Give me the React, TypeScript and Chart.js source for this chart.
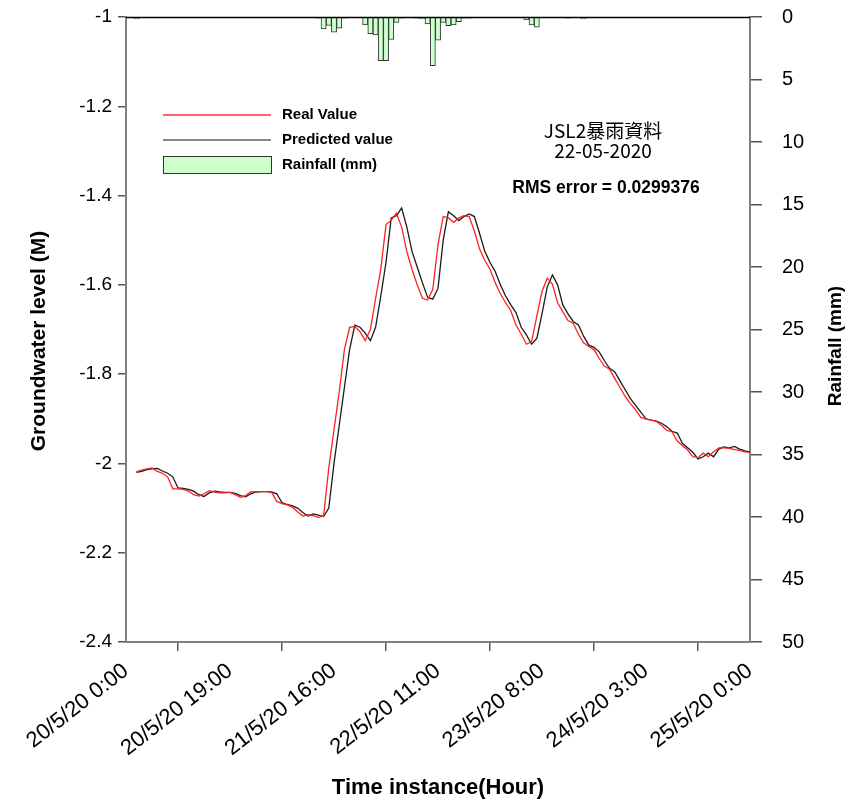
import React, { useEffect, useRef } from 'react';
import { Chart, registerables } from 'chart.js';

Chart.register(...registerables);

const FONT = '"Liberation Sans", Arial, sans-serif';
const CJK = '"Noto Sans CJK TC", "Noto Sans CJK SC", sans-serif';

// hours since 20/5/20 0:00 of the first groundwater sample
const firstHour = 2;

const realValue = [
  -2.019, -2.015, -2.012, -2.01, -2.018, -2.022, -2.03, -2.057, -2.057, -2.058,
  -2.062, -2.07, -2.073, -2.068, -2.061, -2.064, -2.066, -2.066, -2.065, -2.07,
  -2.076, -2.072, -2.064, -2.063, -2.063, -2.063, -2.065, -2.085, -2.09, -2.093,
  -2.098, -2.108, -2.118, -2.115, -2.117, -2.121, -2.118, -2.01, -1.925, -1.84,
  -1.745, -1.695, -1.693, -1.705, -1.725, -1.7, -1.63, -1.565, -1.465, -1.455,
  -1.44, -1.47, -1.525, -1.565, -1.6, -1.63, -1.634, -1.61, -1.51, -1.447,
  -1.45, -1.46, -1.45, -1.445, -1.447, -1.48, -1.52, -1.545, -1.565, -1.595,
  -1.62, -1.64, -1.658, -1.69, -1.71, -1.733, -1.727, -1.67, -1.615, -1.585,
  -1.598, -1.64, -1.66, -1.68, -1.686, -1.71, -1.73, -1.738, -1.745, -1.765,
  -1.782, -1.789, -1.81, -1.83, -1.85, -1.866, -1.88, -1.897, -1.901, -1.903,
  -1.906, -1.915, -1.926, -1.929, -1.95, -1.96, -1.97, -1.985, -1.987, -1.977,
  -1.985, -1.974, -1.965, -1.965, -1.966, -1.969, -1.971, -1.974, -1.975,
];

const predictedValue = [
  -2.02, -2.018, -2.014, -2.012, -2.011, -2.017, -2.022, -2.03, -2.055, -2.056,
  -2.058, -2.062, -2.07, -2.074, -2.066, -2.062, -2.064, -2.065, -2.065, -2.067,
  -2.072, -2.075, -2.068, -2.064, -2.063, -2.063, -2.064, -2.068, -2.088, -2.092,
  -2.095, -2.1, -2.11, -2.118, -2.113, -2.116, -2.119, -2.1, -2.0, -1.915,
  -1.83, -1.745, -1.69, -1.695, -1.708, -1.725, -1.695, -1.625, -1.55, -1.45,
  -1.445, -1.428, -1.47, -1.525, -1.56, -1.595, -1.628, -1.632, -1.608, -1.5,
  -1.436, -1.445, -1.456, -1.447, -1.441, -1.447, -1.485, -1.525, -1.55, -1.57,
  -1.6, -1.625, -1.645, -1.662, -1.695, -1.712, -1.733, -1.72, -1.665, -1.605,
  -1.578, -1.6, -1.645, -1.665, -1.682, -1.69, -1.715, -1.735, -1.74, -1.75,
  -1.77, -1.787, -1.795, -1.815, -1.835, -1.855, -1.87, -1.885, -1.9, -1.903,
  -1.905, -1.91, -1.918, -1.928, -1.932, -1.955, -1.965, -1.975, -1.99, -1.985,
  -1.977, -1.985, -1.968, -1.963, -1.965, -1.962, -1.968, -1.972, -1.974,
];

const rainHours = [
  2, 8, 11, 15, 36, 37, 38, 39, 40, 41, 42, 43, 46, 47, 48, 49, 50, 51, 52, 53,
  54, 56, 57, 58, 59, 60, 61, 62, 63, 64, 65, 66, 73, 77, 78, 79, 85, 88, 103,
];
const rainMm = [
  0.15, 0.05, 0.05, 0.05, 0.05, 0.1, 0.96, 0.68, 1.22, 0.9, 0.1, 0.05, 0.64, 1.33, 1.44, 3.5, 3.5, 1.8, 0.43, 0.1,
  0.05, 0.1, 0.15, 0.56, 3.9, 1.85, 0.43, 0.7, 0.64, 0.37, 0.1, 0.1, 0.05, 0.24, 0.64, 0.82, 0.1, 0.15, 0.05,
];

const xTickHours = [0, 20, 40, 60, 80, 100, 120];
const xTickLabels = [
  '20/5/20 0:00', '20/5/20 19:00', '21/5/20 16:00', '22/5/20 11:00',
  '23/5/20 8:00', '24/5/20 3:00', '25/5/20 0:00',
];
const levelTicks = [-1, -1.2, -1.4, -1.6, -1.8, -2, -2.2, -2.4];
const rainTicks = [0, 5, 10, 15, 20, 25, 30, 35, 40, 45, 50];

const legendItems = ['Real Value', 'Predicted value', 'Rainfall (mm)'];
const leftTitle = 'Groundwater level (M)';
const rightTitle = 'Rainfall (mm)';
const noteTitle = 'JSL2暴雨資料';
const noteDate = '22-05-2020';
const noteRms = 'RMS error = 0.0299376';

const overlayPlugin = {
  id: 'overlay',
  afterDraw(chart: any) {
    const ctx = chart.ctx as CanvasRenderingContext2D;
    const { left, right, top } = chart.chartArea;
    ctx.save();
    // top frame line
    ctx.strokeStyle = '#000';
    ctx.lineWidth = 1.5;
    ctx.beginPath();
    ctx.moveTo(left, top + 0.5);
    ctx.lineTo(right, top + 0.5);
    ctx.stroke();

    // legend
    const lx0 = 163, lx1 = 271, tx = 282;
    ctx.strokeStyle = '#ff3030';
    ctx.lineWidth = 1.6;
    ctx.beginPath(); ctx.moveTo(lx0, 115); ctx.lineTo(lx1, 115); ctx.stroke();
    ctx.strokeStyle = '#111';
    ctx.lineWidth = 1.2;
    ctx.beginPath(); ctx.moveTo(lx0, 140); ctx.lineTo(lx1, 140); ctx.stroke();
    ctx.fillStyle = '#ccffcc';
    ctx.fillRect(lx0, 156, lx1 - lx0, 17);
    ctx.strokeStyle = '#333';
    ctx.lineWidth = 1;
    ctx.strokeRect(lx0 + 0.5, 156.5, lx1 - lx0, 17);
    ctx.fillStyle = '#000';
    ctx.font = `bold 15px ${FONT}`;
    ctx.textAlign = 'left';
    ctx.textBaseline = 'middle';
    ctx.fillText(legendItems[0], tx, 115);
    ctx.fillText(legendItems[1], tx, 140);
    ctx.fillText(legendItems[2], tx, 165);

    // notes
    ctx.textAlign = 'center';
    ctx.font = `19px ${CJK}`;
    ctx.fillText(noteTitle, 603, 131);
    ctx.fillText(noteDate, 603, 151);
    ctx.font = `bold 17.5px ${FONT}`;
    ctx.fillText(noteRms, 606, 188);

    // axis titles (both read bottom to top)
    ctx.save();
    ctx.translate(39, 341);
    ctx.rotate(-Math.PI / 2);
    ctx.font = `bold 21px ${FONT}`;
    ctx.fillText(leftTitle, 0, 0);
    ctx.restore();

    ctx.translate(836, 346);
    ctx.rotate(-Math.PI / 2);
    ctx.font = `bold 19px ${FONT}`;
    ctx.fillText(rightTitle, 0, 0);
    ctx.restore();
  },
};

const noPad = (s: any) => {
  s.paddingTop = 0;
  s.paddingBottom = 0;
};

export default function App() {
  const ref = useRef<HTMLCanvasElement>(null);

  useEffect(() => {
    document.body.style.margin = '0';
    const canvas = ref.current!;
    const realPts = realValue.map((v, i) => ({ x: firstHour + i, y: v }));
    const predPts = predictedValue.map((v, i) => ({ x: firstHour + i, y: v }));
    const rainPts = rainHours.map((h, i) => ({ x: h, y: rainMm[i] }));

    const chart = new Chart(canvas, {
      type: 'line',
      data: {
        datasets: [
          {
            type: 'bar',
            label: legendItems[2],
            data: rainPts as any,
            yAxisID: 'y2',
            backgroundColor: '#ccffcc',
            borderColor: '#333',
            borderWidth: 1,
            barPercentage: 1,
            categoryPercentage: 1,
            grouped: false,
          } as any,
          {
            type: 'line',
            label: legendItems[0],
            data: realPts as any,
            yAxisID: 'y',
            borderColor: '#ff2020',
            borderWidth: 1.3,
            pointRadius: 0,
            tension: 0,
            fill: false,
          },
          {
            type: 'line',
            label: legendItems[1],
            data: predPts as any,
            yAxisID: 'y',
            borderColor: '#1a1a1a',
            borderWidth: 1.3,
            pointRadius: 0,
            tension: 0,
            fill: false,
          },
        ],
      },
      options: {
        responsive: false,
        animation: false,
        layout: { padding: { top: 17, left: 0, right: 0, bottom: 0 } },
        plugins: {
          legend: { display: false },
          tooltip: { enabled: false },
          title: { display: false },
        },
        scales: {
          x: {
            type: 'linear',
            min: 0,
            max: 120,
            offset: false,
            afterBuildTicks: (s: any) => {
              s.ticks = xTickHours.map((v) => ({ value: v }));
            },
            afterFit: (s: any) => {
              s.height = 165;
              s.paddingLeft = 0;
              s.paddingRight = 0;
            },
            ticks: {
              autoSkip: false,
              minRotation: 38,
              maxRotation: 38,
              color: '#000',
              padding: 7,
              font: { family: FONT, size: 22 },
              callback: (_v: any, i: number) => xTickLabels[i],
            },
            grid: { display: true, drawOnChartArea: false, drawTicks: true, tickLength: 9, color: '#555', lineWidth: 1.5 },
            border: { display: true, color: '#808080', width: 2 },
            title: {
              display: true,
              text: 'Time instance(Hour)',
              color: '#000',
              font: { family: FONT, size: 22, weight: 'bold' },
              padding: { top: 0, bottom: 6 },
            },
          },
          y: {
            type: 'linear',
            position: 'left',
            min: -2.4,
            max: -1,
            afterBuildTicks: (s: any) => {
              s.ticks = levelTicks.map((v) => ({ value: v }));
            },
            afterFit: (s: any) => {
              s.width = 126;
              noPad(s);
            },
            ticks: {
              color: '#000',
              padding: 6,
              font: { family: FONT, size: 19 },
              callback: (v: any) => String(v),
            },
            grid: { display: true, drawOnChartArea: false, drawTicks: true, tickLength: 8, color: '#555', lineWidth: 1.5 },
            border: { display: true, color: '#808080', width: 2 },
            title: { display: false },
          },
          y2: {
            type: 'linear',
            position: 'right',
            min: 0,
            max: 50,
            reverse: true,
            afterBuildTicks: (s: any) => {
              s.ticks = rainTicks.map((v) => ({ value: v }));
            },
            afterFit: (s: any) => {
              s.width = 101;
              noPad(s);
            },
            ticks: {
              color: '#000',
              padding: 20,
              font: { family: FONT, size: 20 },
              callback: (v: any) => String(v),
            },
            grid: { display: true, drawOnChartArea: false, drawTicks: true, tickLength: 12, color: '#555', lineWidth: 1.5 },
            border: { display: true, color: '#808080', width: 2 },
            title: { display: false },
          },
        },
      } as any,
      plugins: [overlayPlugin],
    });
    return () => chart.destroy();
  }, []);

  return (
    <div style={{ width: 851, height: 807, background: '#fff' }}>
      <canvas ref={ref} width={851} height={807} />
    </div>
  );
}
